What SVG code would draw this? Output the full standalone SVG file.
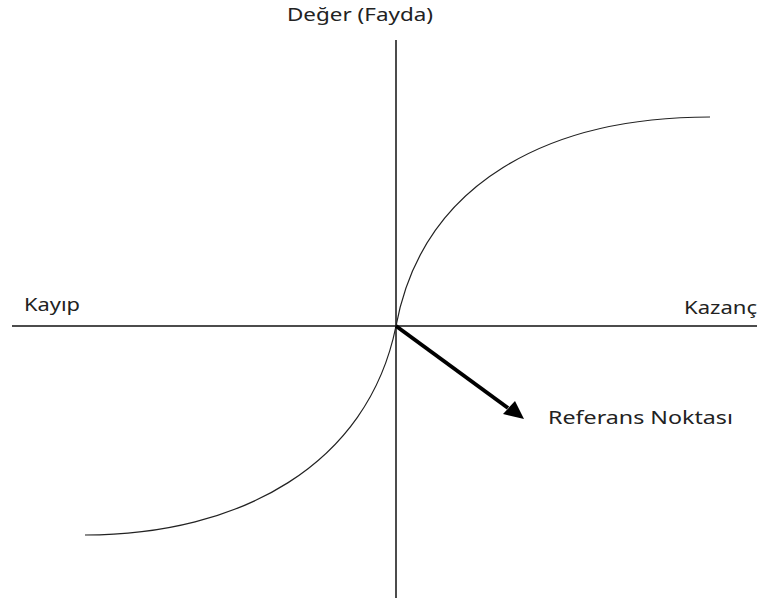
<svg xmlns="http://www.w3.org/2000/svg" width="762" height="608" viewBox="0 0 762 608">
<style>
.t{font-family:"Noto Sans","Open Sans","DejaVu Sans",sans-serif;font-size:18.5px;fill:#222}
.ax{stroke:#111;stroke-width:1.5;fill:none}
.cv{stroke:#222;stroke-width:1.2;fill:none}
</style>
<rect width="762" height="608" fill="#fff"/>
<g id="connectors">
<line class="ax" x1="12" y1="326" x2="757" y2="326"/>
<line class="ax" x1="396" y1="40" x2="396" y2="598"/>
<path id="curve-upper" class="cv" d="M396,326 C423,182 550,117 710,117"/>
<path id="curve-lower" class="cv" d="M396,326 C368,465 240,535 85,535"/>
<line x1="396" y1="326" x2="508" y2="408" stroke="#000" stroke-width="4"/>
<polygon points="524,419 503,414 515,401" fill="#000"/>
</g>
<g id="label-value"><text class="t" x="287" y="21" textLength="146" lengthAdjust="spacingAndGlyphs">Değer (Fayda)</text></g>
<g id="label-loss"><text class="t" x="24" y="311" textLength="56" lengthAdjust="spacingAndGlyphs">Kayıp</text></g>
<g id="label-gain"><text class="t" x="684" y="314" textLength="73" lengthAdjust="spacingAndGlyphs">Kazanç</text></g>
<g id="label-ref"><text class="t" x="548" y="424" textLength="185" lengthAdjust="spacingAndGlyphs">Referans Noktası</text></g>
</svg>
